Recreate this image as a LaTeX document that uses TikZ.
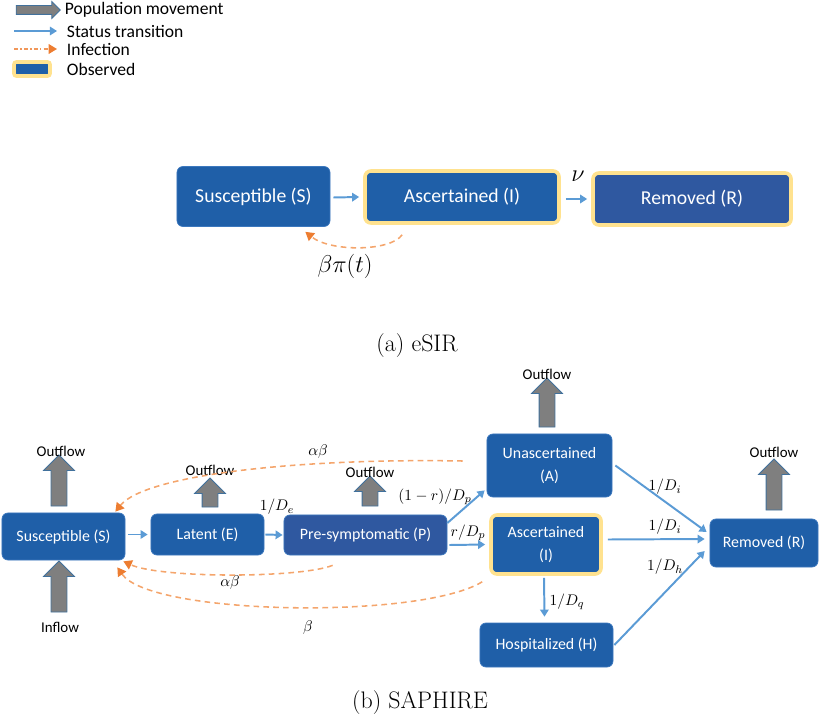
\documentclass[tikz,border=0pt]{standalone}
\usepackage{amsmath}
\usepackage{fontspec}
\newfontfamily\calib{Carlito}
\usepackage{tikz}
\usetikzlibrary{arrows.meta,shapes.arrows,positioning,calc}
\definecolor{boxblue}{HTML}{1F5FA8}
\definecolor{boxviolet}{HTML}{2F58A0}
\definecolor{boxedge}{HTML}{3C78BE}
\definecolor{obsyellow}{HTML}{FFE28F}
\definecolor{popgray}{HTML}{7F7F7F}
\definecolor{popedge}{HTML}{41719C}
\definecolor{transblue}{HTML}{5B9BD5}
\definecolor{infectline}{HTML}{F4A56C}
\definecolor{infecthead}{HTML}{ED7D31}

\begin{document}
\begin{tikzpicture}[
  x=0.025cm, y=-0.025cm,
  compbox/.style={rectangle,rounded corners=0.15cm,fill=boxblue,draw=boxedge,
                  line width=0.5pt,text=white,align=center,inner sep=0pt},
  obs/.style={draw=obsyellow,line width=0.09cm},
  trans/.style={draw=transblue,line width=1.4pt,-{Triangle[width=6pt,length=5pt]}},
  infect/.style={draw=infectline,line width=1.1pt,dash pattern=on 4pt off 3pt,
                 -{Triangle[width=7pt,length=6pt,fill=infecthead,color=infecthead]}},
  popmove/.style={single arrow,draw=popedge,fill=popgray,line width=0.6pt,
                  inner xsep=0pt,inner ysep=0.1875cm,single arrow head extend=0.1875cm,
                  single arrow head indent=0pt,minimum height=#1},
  flowlbl/.style={font=\calib\fontsize{10.6}{12}\selectfont},
  rate/.style={font=\fontsize{11}{13}\selectfont},
  legtxt/.style={anchor=west,font=\calib\fontsize{12.5}{14}\selectfont}
]
\useasboundingbox (0,0) rectangle (820,721);

% legend
\node[popmove=1.1cm,inner ysep=0.1cm,single arrow head extend=0.1cm] (legPop) at (36,10) {};
\node[legtxt] (legPopTxt) at (60,10) {Population movement};
\coordinate (legTransA) at (14,31);
\coordinate (legTransB) at (57,31);
\draw[trans,line width=1.1pt] (legTransA) -- (legTransB);
\node[legtxt] (legTransTxt) at (62,31) {Status transition};
\coordinate (legInfA) at (14,49);
\coordinate (legInfB) at (57,49);
\draw[infect,draw=infecthead!80,line width=0.9pt,dash pattern=on 3pt off 1.5pt on 1pt off 1.5pt] (legInfA) -- (legInfB);
\node[legtxt] (legInfTxt) at (62,49) {Infection};
\node[compbox,obs,rounded corners=0.06cm,minimum width=0.9cm,minimum height=0.35cm] (legObs) at (32,69) {};
\node[legtxt] (legObsTxt) at (62,69) {Observed};

% (a) eSIR
\begin{scope}[every node/.append style={font=\calib\fontsize{14}{16}\selectfont}]
\node[compbox,minimum width=3.825cm,minimum height=1.5cm] (aS) at (253.5,196.5) {Susceptible (S)};
\node[compbox,obs,minimum width=4.85cm,minimum height=1.3cm] (aI) at (462,197) {Ascertained (I)};
\node[compbox,obs,fill=boxviolet,minimum width=4.95cm,minimum height=1.3cm] (aR) at (692,199) {Removed (R)};
\end{scope}
\draw[trans] ([shift={(3,1)}]aS.east) -- ([shift={(-4,0)}]aI.west);
\draw[trans] ([shift={(5,2)}]aI.east) -- ([shift={(-4,0)}]aR.west);
\node[font=\fontsize{16}{18}\selectfont] (aNu) at (578,176) {$\nu$};
\draw[infect] ([shift={(39,10)}]aI.south west) .. controls +(-12,17) and +(25,20) .. ([shift={(-25,5)}]aS.south east);
\node[font=\fontsize{17}{20}\selectfont] (aRate) at (345,266) {$\beta\pi(t)$};
\node[font=\fontsize{17}{20}\selectfont] (capA) at (417,346) {(a) eSIR};

% (b) SAPHIRE
\begin{scope}[every node/.append style={font=\calib\fontsize{11.3}{16}\selectfont}]
\node[compbox,minimum width=3.075cm,minimum height=1.175cm] (S) at (63.5,536.5) {Susceptible (S)};
\node[compbox,minimum width=2.825cm,minimum height=1.025cm] (E) at (207.5,534.5) {Latent (E)};
\node[compbox,fill=boxviolet,minimum width=4.075cm,minimum height=1cm] (P) at (365.5,535) {Pre-symptomatic (P)};
\node[compbox,minimum width=3.125cm,minimum height=1.575cm] (A) at (549.5,465.5) {Unascertained\\(A)};
\node[compbox,obs,minimum width=2.75cm,minimum height=1.475cm] (I) at (546,544.5) {Ascertained\\(I)};
\node[compbox,minimum width=3.325cm,minimum height=1.1cm] (H) at (546.5,645) {Hospitalized (H)};
\node[compbox,minimum width=2.7cm,minimum height=1.2cm] (R) at (764,543) {Removed (R)};
\end{scope}

% population movement
\node[popmove=1.275cm,rotate=90] (outS) at (59,484.5) {};
\node[popmove=1.275cm,rotate=90] (inS) at (59,590.5) {};
\node[popmove=0.725cm,rotate=90] (outE) at (210,496.5) {};
\node[popmove=0.75cm,rotate=90] (outP) at (370,495) {};
\node[popmove=1.225cm,rotate=90] (outA) at (547,406.5) {};
\node[popmove=1.275cm,rotate=90] (outR) at (774,488.5) {};
\node[flowlbl] (lblOutS) at (61,451) {Outflow};
\node[flowlbl] (lblInS) at (60,627) {Inflow};
\node[flowlbl] (lblOutE) at (210,470) {Outflow};
\node[flowlbl] (lblOutP) at (370,472) {Outflow};
\node[flowlbl] (lblOutA) at (547,374) {Outflow};
\node[flowlbl] (lblOutR) at (774,452) {Outflow};

% status transitions
\draw[trans] ([shift={(3,-2)}]S.east) -- ([shift={(-3,0)}]E.west);
\draw[trans] ([shift={(1,0)}]E.east) -- ([shift={(-1,0)}]P.west);
\draw[trans] ([shift={(0,-12)}]P.east) -- ([shift={(-2,-7)}]A.south west);
\draw[trans] ([shift={(2,10)}]P.east) -- ([shift={(-4,0)}]I.west);
\draw[trans] ([shift={(3,0)}]A.east) -- ([shift={(-3,-11)}]R.west);
\draw[trans] ([shift={(5,-5)}]I.east) -- ([shift={(-5,-4)}]R.west);
\draw[trans] ([shift={(1,0)}]H.east) -- ([shift={(-5,8)}]R.west);
\draw[trans] ([shift={(-2,2)}]I.south) -- ([shift={(-2,-6)}]H.north);
\node[rate] (rE) at (277,507) {$1/D_e$};
\node[rate] (rA) at (435,497) {$(1-r)/D_p$};
\node[rate] (rI) at (468,533) {$r/D_p$};
\node[rate] (rAR) at (665,487) {$1/D_i$};
\node[rate] (rIR) at (665,527) {$1/D_i$};
\node[rate] (rHR) at (665,567) {$1/D_h$};
\node[rate] (rIH) at (567,602) {$1/D_q$};

% infection
\draw[infect] ([shift={(-24,-4.5)}]A.west) .. controls +(-163,-3) and +(30,-37) .. ([shift={(-10,-1)}]S.north east);
\draw[infect] ([shift={(49,10)}]P.south west) .. controls +(-33,13) and +(37,17) .. ([shift={(-2,1)}]S.south east);
\draw[infect] ([shift={(-7,6)}]I.south west) .. controls +(-62,38) and +(33,48) .. ([shift={(-8,7)}]S.south east);
\node[rate] (rInfA) at (318,452) {$\alpha\beta$};
\node[rate] (rInfP) at (230,583) {$\alpha\beta$};
\node[rate] (rInfI) at (308,628) {$\beta$};

\node[font=\fontsize{17}{20}\selectfont] (capB) at (420,703) {(b) SAPHIRE};
\end{tikzpicture}
\end{document}
